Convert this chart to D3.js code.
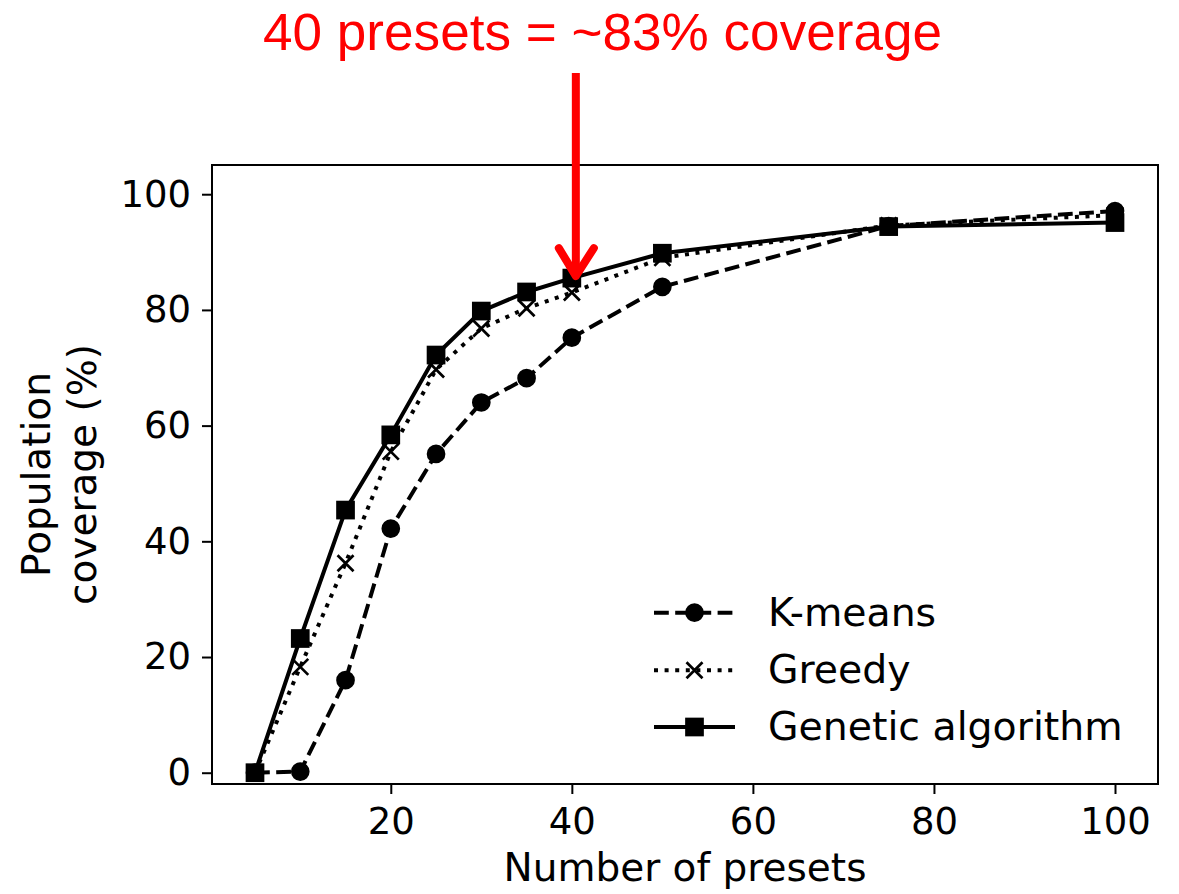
<!DOCTYPE html>
<html>
<head>
<meta charset="utf-8">
<script src="https://cdn.jsdelivr.net/npm/d3@7"></script>
<style>
  html, body { margin: 0; padding: 0; background: #fff; }
  svg { display: block; }
</style>
</head>
<body>
<svg id="chart" width="1179" height="894"></svg>
<script>
// Number of presets evaluated
const presets = [5, 10, 15, 20, 25, 30, 35, 40, 50, 75, 100];

// Population coverage (%) per method
const kmeansCoverage  = [0, 0.2, 16.0, 42.2, 55.1, 64.0, 68.2, 75.2, 84.0, 94.5, 97.1];
const greedyCoverage  = [0, 18.3, 36.2, 55.5, 69.7, 76.8, 80.3, 83.0, 89.0, 94.6, 96.4];
const geneticCoverage = [0, 23.2, 45.4, 58.4, 72.2, 79.8, 83.1, 85.5, 89.8, 94.4, 95.1];

const seriesNames = ["K-means", "Greedy", "Genetic algorithm"];

const xTicks = [20, 40, 60, 80, 100];
const yTicks = [0, 20, 40, 60, 80, 100];

const titleText = "40 presets = ~83% coverage";
const highlightPreset = 40;

const svg = d3.select("#chart");
const plot = { left: 212, right: 1158, top: 165, bottom: 784 };

const x = d3.scaleLinear().domain([0.25, 104.75]).range([plot.left, plot.right]);
const y = d3.scaleLinear().domain([-1.95, 105.05]).range([plot.bottom, plot.top]);

const LW = 4;
const styles = [
  { name: seriesNames[0], values: kmeansCoverage,  dash: `${3.7 * LW},${1.6 * LW}`, marker: "circle" },
  { name: seriesNames[1], values: greedyCoverage,  dash: `${1 * LW},${1.65 * LW}`,  marker: "x" },
  { name: seriesNames[2], values: geneticCoverage, dash: null,                       marker: "square" }
];

function drawMarker(g, type, cx, cy) {
  const s = 8;
  if (type === "circle") {
    g.append("circle").attr("cx", cx).attr("cy", cy).attr("r", s)
      .attr("fill", "#000").attr("stroke", "#000").attr("stroke-width", 2.7);
  } else if (type === "square") {
    g.append("rect").attr("x", cx - s).attr("y", cy - s).attr("width", 2 * s).attr("height", 2 * s)
      .attr("fill", "#000").attr("stroke", "#000").attr("stroke-width", 2.7);
  } else {
    g.append("path")
      .attr("d", `M${cx - s},${cy - s}L${cx + s},${cy + s}M${cx - s},${cy + s}L${cx + s},${cy - s}`)
      .attr("stroke", "#000").attr("stroke-width", 2.7).attr("fill", "none");
  }
}

// Series lines and markers
const line = d3.line().x((d, i) => x(presets[i])).y(d => y(d));
styles.forEach(s => {
  const g = svg.append("g");
  g.append("path")
    .attr("d", line(s.values))
    .attr("fill", "none")
    .attr("stroke", "#000")
    .attr("stroke-width", LW)
    .attr("stroke-dasharray", s.dash)
    .attr("stroke-linejoin", "round");
  s.values.forEach((v, i) => drawMarker(g, s.marker, x(presets[i]), y(v)));
});

// Frame
svg.append("rect")
  .attr("x", plot.left).attr("y", plot.top)
  .attr("width", plot.right - plot.left).attr("height", plot.bottom - plot.top)
  .attr("fill", "none").attr("stroke", "#000").attr("stroke-width", 2);

// Axes
const tickFont = "DejaVu Sans";
const xAxis = svg.append("g")
  .attr("transform", `translate(0,${plot.bottom})`)
  .call(d3.axisBottom(x).tickValues(xTicks).tickSize(10).tickPadding(14).tickFormat(d3.format("d")));
const yAxis = svg.append("g")
  .attr("transform", `translate(${plot.left},0)`)
  .call(d3.axisLeft(y).tickValues(yTicks).tickSize(10).tickPadding(11).tickFormat(d3.format("d")));
[xAxis, yAxis].forEach(a => {
  a.select(".domain").remove();
  a.selectAll(".tick line").attr("stroke", "#000").attr("stroke-width", 2);
  a.selectAll(".tick text").attr("fill", "#000")
    .style("font-family", tickFont).style("font-size", "37px");
});

// Axis titles
svg.append("text")
  .attr("x", (plot.left + plot.right) / 2).attr("y", 881)
  .attr("text-anchor", "middle")
  .style("font-family", tickFont).style("font-size", "39px")
  .text("Number of presets");

const yLabel = svg.append("text")
  .attr("transform", `translate(50,${(plot.top + plot.bottom) / 2}) rotate(-90)`)
  .attr("text-anchor", "middle")
  .style("font-family", tickFont).style("font-size", "39px");
yLabel.append("tspan").attr("x", 0).attr("dy", 0).text("Population");
yLabel.append("tspan").attr("x", 0).attr("dy", 46).text("coverage (%)");

// Legend
const legend = svg.append("g");
const legendRows = [612.7, 670.3, 727];
styles.forEach((s, i) => {
  const cy = legendRows[i];
  legend.append("line")
    .attr("x1", 654).attr("x2", 735).attr("y1", cy).attr("y2", cy)
    .attr("stroke", "#000").attr("stroke-width", LW)
    .attr("stroke-dasharray", s.dash);
  drawMarker(legend, s.marker, 694.5, cy);
  legend.append("text")
    .attr("x", 768).attr("y", cy + 13)
    .style("font-family", tickFont).style("font-size", "39.4px")
    .text(s.name);
});

// Annotation: title and arrow pointing at the highlighted preset
svg.append("text")
  .attr("x", 602.5).attr("y", 50)
  .attr("text-anchor", "middle")
  .attr("fill", "#ff0000")
  .attr("textLength", 679)
  .attr("lengthAdjust", "spacingAndGlyphs")
  .style("font-family", "Liberation Sans, Arial, sans-serif").style("font-size", "51px")
  .text(titleText);

const hi = presets.indexOf(highlightPreset);
const ax = x(highlightPreset) + 4;
const tipY = y(geneticCoverage[hi]);
svg.append("line")
  .attr("x1", ax).attr("x2", ax).attr("y1", 73).attr("y2", tipY - 3)
  .attr("stroke", "#ff0000").attr("stroke-width", 8);
svg.append("path")
  .attr("d", `M${ax - 17},${tipY - 30}L${ax},${tipY - 2}L${ax + 18},${tipY - 30}`)
  .attr("fill", "none").attr("stroke", "#ff0000").attr("stroke-width", 8)
  .attr("stroke-linecap", "round").attr("stroke-linejoin", "round");
</script>
</body>
</html>
